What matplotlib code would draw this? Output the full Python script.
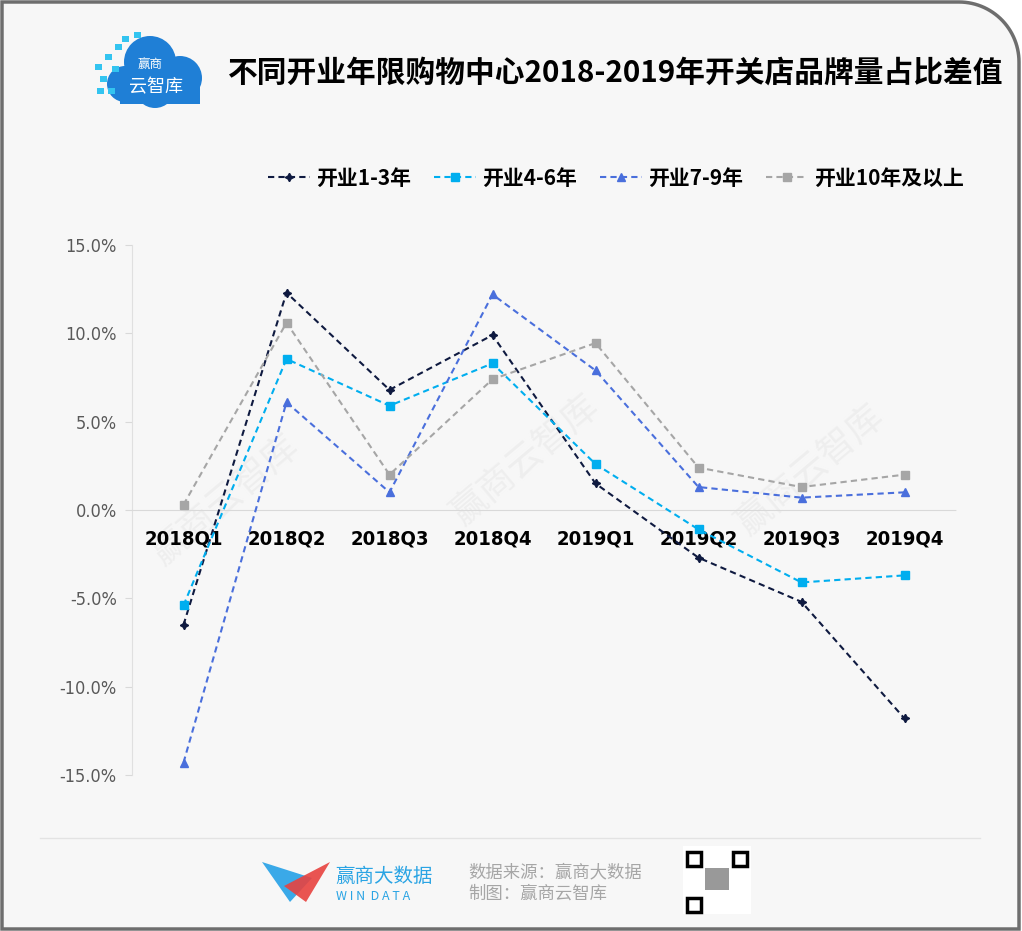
import matplotlib.pyplot as plt
import matplotlib.patches as mpatches
from matplotlib.lines import Line2D
import numpy as np

plt.rcParams['font.family'] = ['Noto Sans CJK SC', 'DejaVu Sans']

# 数据
quarters = ['2018Q1', '2018Q2', '2018Q3', '2018Q4', '2019Q1', '2019Q2', '2019Q3', '2019Q4']
names = ['开业1-3年', '开业4-6年', '开业7-9年', '开业10年及以上']
s1 = [-6.5, 12.3, 6.8, 9.9, 1.5, -2.7, -5.2, -11.8]
s2 = [-5.4, 8.55, 5.9, 8.3, 2.6, -1.1, -4.1, -3.7]
s3 = [-14.3, 6.1, 1.0, 12.2, 7.9, 1.3, 0.7, 1.0]
s4 = [0.3, 10.6, 2.0, 7.4, 9.45, 2.4, 1.3, 2.0]
yticks = [-15, -10, -5, 0, 5, 10, 15]

colors = ['#0f1a40', '#00aeef', '#4a6fdc', '#a6a6a6']
markers = [(4, 1, 0), 's', '^', 's']
series = [s1, s2, s3, s4]

W, H = 1022, 931
fig = plt.figure(figsize=(W / 100, H / 100), dpi=100)
fig.patch.set_facecolor('white')

# 背景和边框（右上角圆角）
r = 60
t = np.linspace(0, np.pi / 2, 30)
xs = [2, 2] + list(W - 3 - r + r * np.sin(t)) + [W - 3]
ys = [H - 2, 2] + list(2 + r - r * np.cos(t)) + [H - 2]
frame = mpatches.Polygon([(x / W, 1 - y / H) for x, y in zip(xs, ys)], closed=True,
                         transform=fig.transFigure, facecolor='#f7f7f7',
                         edgecolor='#6e6e6e', lw=2.5, zorder=-5)
fig.patches.append(frame)

# 水印
for (wx, wy) in [(225, 500), (525, 460), (810, 470)]:
    fig.text(wx / W, 1 - wy / H, '赢商云智库', fontsize=26, color='#eeeeee', rotation=40,
             ha='center', va='center', zorder=-1)

ax = fig.add_axes([132 / W, 1 - 775 / H, (956 - 132) / W, (775 - 245) / H], zorder=2)
ax.set_facecolor('none')
for s in ['top', 'right']:
    ax.spines[s].set_visible(False)
ax.spines['left'].set_color('#e0e0e0')
ax.spines['bottom'].set_position(('data', 0))
ax.spines['bottom'].set_color('#d9d9d9')
ax.spines['bottom'].set_linestyle((0, (1, 1)))

x = np.arange(len(quarters))
for vals, name, c, m in zip(series, names, colors, markers):
    ax.plot(x, vals, linestyle=(0, (3, 2)), color=c, lw=1.5, marker=m,
            markersize=6, label=name, zorder=3)

ax.set_xlim(-0.5, len(quarters) - 0.5)
ax.set_ylim(-15, 15)
ax.set_yticks(yticks)
ax.set_yticklabels([f'{v:.1f}%' for v in yticks], color='#595959', fontsize=13,
                   fontstretch='condensed', family='DejaVu Sans')
ax.tick_params(axis='y', length=5, color='#d9d9d9', pad=6)
ax.set_xticks(x)
ax.set_xticklabels(quarters, fontsize=14.5, fontweight='bold', color='black',
                   fontstretch='condensed', family='DejaVu Sans')
ax.tick_params(axis='x', length=0, pad=14)

# 图例
handles = [Line2D([0], [0], color=c, linestyle=(0, (3, 2)), lw=1.5, marker=m, markersize=6)
           for c, m in zip(colors, markers)]
fig.legend(handles, names, loc='center', bbox_to_anchor=(616 / W, 1 - 178 / H), ncol=4,
           frameon=False, handlelength=2.0, handletextpad=0.3, columnspacing=1.1,
           prop={'size': 15, 'weight': 'bold'})

# 标题
fig.text(228 / W, 1 - 73 / H, '不同开业年限购物中心2018-2019年开关店品牌量占比差值',
         fontsize=21.4, fontweight='bold', va='center', ha='left')

# 左上角 logo（云朵）
for (cx, cy, rr) in [(150, 62, 26), (180, 78, 22), (125, 84, 18), (155, 88, 20)]:
    fig.patches.append(mpatches.Ellipse((cx / W, 1 - cy / H), 2 * rr / W, 2 * rr / H,
                                        transform=fig.transFigure, facecolor='#1f7fd6',
                                        edgecolor='none'))
fig.patches.append(mpatches.Rectangle((120 / W, 1 - 104 / H), 80 / W, 20 / H,
                                      transform=fig.transFigure, facecolor='#1f7fd6'))
for (px, py) in [(95, 70), (105, 60), (115, 50), (122, 42), (134, 38), (100, 82), (112, 72), (97, 94), (108, 94)]:
    fig.patches.append(mpatches.Rectangle((px / W, 1 - py / H), 7 / W, 6 / H,
                                          transform=fig.transFigure, facecolor='#33c4f0'))
fig.text(150 / W, 1 - 64 / H, '赢商', color='white', fontsize=9, ha='center', va='center')
fig.text(156 / W, 1 - 87 / H, '云智库', color='white', fontsize=13, ha='center', va='center')

# 分隔线
fig.add_artist(Line2D([40 / W, 980 / W], [1 - 838 / H, 1 - 838 / H], color='#e3e3e3', lw=1))

# 底部 logo
fig.patches.append(mpatches.Polygon([(262 / W, 1 - 862 / H), (312 / W, 1 - 878 / H), (290 / W, 1 - 902 / H)],
                                    closed=True, transform=fig.transFigure, facecolor='#3aa9e8'))
fig.patches.append(mpatches.Polygon([(330 / W, 1 - 862 / H), (284 / W, 1 - 886 / H), (306 / W, 1 - 902 / H)],
                                    closed=True, transform=fig.transFigure, facecolor='#e8423f', alpha=0.9))
fig.text(335 / W, 1 - 876 / H, '赢商大数据', color='#2aa4e4', fontsize=14, va='center')
fig.text(336 / W, 1 - 896 / H, 'W I N  D A T A', color='#2aa4e4', fontsize=9, va='center')
fig.text(468 / W, 1 - 872 / H, '数据来源：赢商大数据', color='#a6a6a6', fontsize=12.5, va='center')
fig.text(468 / W, 1 - 894 / H, '制图：赢商云智库', color='#a6a6a6', fontsize=12.5, va='center')

# 二维码位置
fig.patches.append(mpatches.Rectangle((683 / W, 1 - 914 / H), 68 / W, 68 / H,
                                      transform=fig.transFigure, facecolor='white'))
for (qx, qy) in [(687, 852), (733, 852), (687, 898)]:
    fig.patches.append(mpatches.Rectangle((qx / W, 1 - (qy + 14) / H), 14 / W, 14 / H,
                                          transform=fig.transFigure, facecolor='white',
                                          edgecolor='black', lw=2.5))
fig.patches.append(mpatches.Rectangle((705 / W, 1 - 890 / H), 24 / W, 22 / H,
                                      transform=fig.transFigure, facecolor='#555555', alpha=0.6))

fig.savefig('out.png', dpi=100, facecolor=fig.get_facecolor())
